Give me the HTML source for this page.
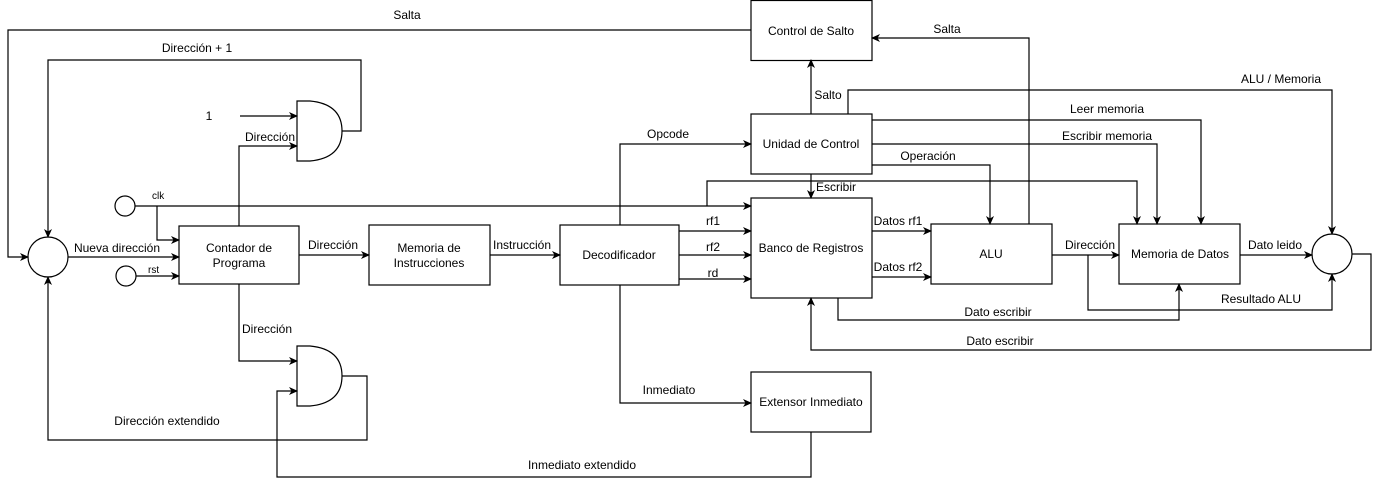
<!DOCTYPE html>
<html><head><meta charset="utf-8"><style>
html,body{margin:0;padding:0;background:#fff;}
svg{display:block;}
text{font-family:"Liberation Sans",Arial,sans-serif;font-size:12px;fill:#000;}
</style></head><body>
<svg width="1380" height="489" viewBox="0 0 1380 489" xmlns="http://www.w3.org/2000/svg">
<defs>
<marker id="a" markerWidth="10" markerHeight="10" refX="8" refY="5" orient="auto" markerUnits="userSpaceOnUse">
<path d="M0,1 L9,5 L0,9 L2.5,5 Z" fill="#000"/>
</marker>
</defs>
<g fill="none" stroke="#000" stroke-width="1.2">
<!-- boxes -->
<rect x="751" y="0.5" width="121" height="60"/>
<rect x="751" y="114" width="121" height="60"/>
<rect x="751" y="198" width="121" height="100"/>
<rect x="931" y="224" width="121" height="60"/>
<rect x="1119" y="224" width="121" height="60"/>
<rect x="560" y="225" width="119" height="60"/>
<rect x="369" y="225" width="121" height="60"/>
<rect x="179" y="226" width="120" height="58"/>
<rect x="751" y="372" width="120" height="60"/>
<circle cx="48" cy="257" r="20"/>
<circle cx="1332" cy="254" r="20"/>
<circle cx="125" cy="206" r="10"/>
<circle cx="126" cy="276" r="10"/>
<!-- gates -->
<path d="M297,101 L310,101 Q342,104 342,131 Q342,158 310,161 L297,161 Z"/>
<path d="M297,346 L310,346 Q342,349 342,376 Q342,403 310,406 L297,406 Z"/>
<!-- connectors -->
<path d="M751,30 L8,30 L8,257 L28,257" marker-end="url(#a)"/>
<path d="M342,131 L361,131 L361,60 L48,60 L48,237" marker-end="url(#a)"/>
<path d="M240,116 L297,116" marker-end="url(#a)"/>
<path d="M239,226 L239,146 L297,146" marker-end="url(#a)"/>
<path d="M135,206 L751,206" marker-end="url(#a)"/>
<path d="M157,206 L157,240 L179,240" marker-end="url(#a)"/>
<path d="M707,206 L707,181 L1137,181 L1137,224" marker-end="url(#a)"/>
<path d="M68,257 L179,257" marker-end="url(#a)"/>
<path d="M136,276 L179,276" marker-end="url(#a)"/>
<path d="M299,255 L369,255" marker-end="url(#a)"/>
<path d="M490,255 L560,255" marker-end="url(#a)"/>
<path d="M679,231 L751,231" marker-end="url(#a)"/>
<path d="M679,255 L751,255" marker-end="url(#a)"/>
<path d="M679,279 L751,279" marker-end="url(#a)"/>
<path d="M620,225 L620,144 L751,144" marker-end="url(#a)"/>
<path d="M620,285 L620,403 L751,403" marker-end="url(#a)"/>
<path d="M811,432 L811,477 L277,477 L277,391 L297,391" marker-end="url(#a)"/>
<path d="M239,284 L239,361 L297,361" marker-end="url(#a)"/>
<path d="M342,376 L367,376 L367,440 L48,440 L48,277" marker-end="url(#a)"/>
<path d="M811,114 L811,60" marker-end="url(#a)"/>
<path d="M811,174 L811,198" marker-end="url(#a)"/>
<path d="M1029,224 L1029,38 L872,38" marker-end="url(#a)"/>
<path d="M848,114 L848,90 L1332,90 L1332,234" marker-end="url(#a)"/>
<path d="M872,120 L1201,120 L1201,224" marker-end="url(#a)"/>
<path d="M872,144 L1157,144 L1157,224" marker-end="url(#a)"/>
<path d="M872,165 L990,165 L990,224" marker-end="url(#a)"/>
<path d="M872,231 L931,231" marker-end="url(#a)"/>
<path d="M872,277 L931,277" marker-end="url(#a)"/>
<path d="M1052,255 L1119,255" marker-end="url(#a)"/>
<path d="M1088,255 L1088,310 L1332,310 L1332,274" marker-end="url(#a)"/>
<path d="M1240,255 L1312,255" marker-end="url(#a)"/>
<path d="M838,298 L838,320 L1179,320 L1179,284" marker-end="url(#a)"/>
<path d="M1352,254 L1371,254 L1371,350 L811,350 L811,298" marker-end="url(#a)"/>
</g>
<g text-anchor="middle">
<text x="811" y="35">Control de Salto</text>
<text x="811" y="148">Unidad de Control</text>
<text x="811" y="252">Banco de Registros</text>
<text x="991" y="258">ALU</text>
<text x="1180" y="258">Memoria de Datos</text>
<text x="619" y="259">Decodificador</text>
<text x="429" y="252">Memoria de</text>
<text x="429" y="267">Instrucciones</text>
<text x="239" y="252">Contador de</text>
<text x="239" y="267">Programa</text>
<text x="811" y="406">Extensor Inmediato</text>
<text x="407" y="19">Salta</text>
<text x="197" y="52">Dirección + 1</text>
<text x="209" y="120">1</text>
<text x="270" y="141">Dirección</text>
<text x="117" y="252">Nueva dirección</text>
<text x="333" y="249">Dirección</text>
<text x="522" y="249">Instrucción</text>
<text x="713" y="225">rf1</text>
<text x="713" y="251">rf2</text>
<text x="713" y="277">rd</text>
<text x="668" y="138">Opcode</text>
<text x="669" y="394">Inmediato</text>
<text x="582" y="469">Inmediato extendido</text>
<text x="267" y="333">Dirección</text>
<text x="167" y="425">Dirección extendido</text>
<text x="828" y="99">Salto</text>
<text x="836" y="191">Escribir</text>
<text x="947" y="33">Salta</text>
<text x="1281" y="83">ALU / Memoria</text>
<text x="1107" y="113">Leer memoria</text>
<text x="1107" y="140">Escribir memoria</text>
<text x="928" y="160">Operación</text>
<text x="898" y="225">Datos rf1</text>
<text x="898" y="271">Datos rf2</text>
<text x="1090" y="249">Dirección</text>
<text x="1275" y="249">Dato leido</text>
<text x="1261" y="303">Resultado ALU</text>
<text x="998" y="316">Dato escribir</text>
<text x="1000" y="345">Dato escribir</text>
</g>
<text x="152" y="199" style="font-size:10px">clk</text>
<text x="148" y="273" style="font-size:10px">rst</text>
</svg>
</body></html>
